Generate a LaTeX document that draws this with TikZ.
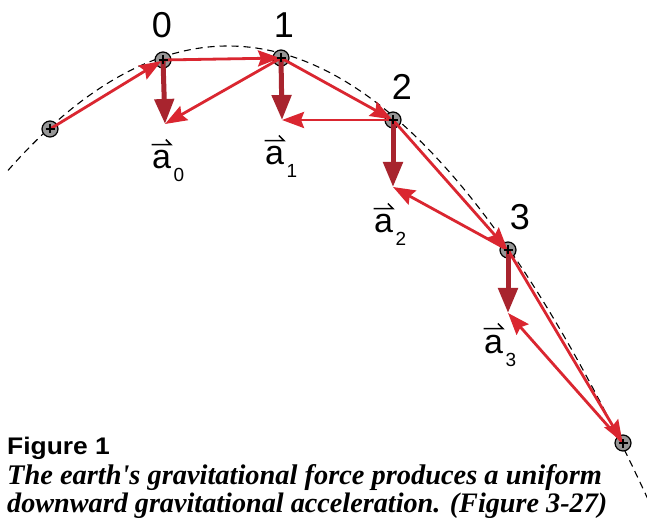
\documentclass[tikz,border=0pt]{standalone}
\usepackage{fontspec}
\setmainfont{Liberation Sans}
\newfontfamily\capserif{Liberation Serif}
\usetikzlibrary{arrows.meta}
\definecolor{vred}{RGB}{218,38,48}
\definecolor{ared}{RGB}{168,36,46}
\definecolor{dotgray}{RGB}{150,150,150}
\newcommand{\acclab}[4]{%
  \node[alab, anchor=base west] (#1) at (#2,#3) {a};
  \node[asub, anchor=base west] (#1s) at ([xshift=2pt,yshift=-13pt]#1.base east) {#4};
  \draw[abar] ([xshift=-0.5pt,yshift=6pt]#1.north west) -- ([xshift=-0.5pt,yshift=6pt]#1.north east) -- ++(-5pt,5pt);
}
\begin{document}
\begin{tikzpicture}[x=1pt,y=-1pt,
  dot/.style={circle, draw=black, line width=1.2pt, fill=dotgray, minimum size=16pt, inner sep=0pt},
  plusmark/.style={draw=black, line width=1.5pt},
  vel/.style={draw=vred, line width=2.8pt, -{Stealth[length=22pt,width=16pt,inset=3pt]}},
  acc/.style={draw=ared, line width=5pt, -{Triangle[length=25pt,width=19pt]}},
  traj/.style={draw=black, line width=1.1pt, dash pattern=on 7pt off 5pt},
  numlab/.style={inner sep=0pt, font=\fontsize{36}{42}\selectfont},
  alab/.style={inner sep=0pt, font=\fontsize{34}{39}\selectfont},
  asub/.style={inner sep=0pt, font=\fontsize{19}{23}\selectfont},
  abar/.style={draw=black, line width=1.5pt},
]
\useasboundingbox (0,0) rectangle (647,518);
\fill[white] (0,0) rectangle (647,518);

% trajectory
\draw[traj] plot[domain=8:648, samples=120] (\x, {46+25.7*((\x-228)/100)^2});

% points
\node[dot] (pm) at (50,129) {};
\node[dot] (p0) at (163,60) {};
\node[dot] (p1) at (281,58) {};
\node[dot] (p2) at (393,120) {};
\node[dot] (p3) at (508,250) {};
\node[dot] (p4) at (623,443) {};

% acceleration tips
\coordinate (t0) at (165,124);
\coordinate (t1) at (282,120);
\coordinate (t2) at (393,187);
\coordinate (t3) at (508,313);

% acceleration arrows
\draw[acc] (p0.center) -- (t0);
\draw[acc] (p1.center) -- (t1);
\draw[acc] (p2.center) -- (t2);
\draw[acc] (p3.center) -- (t3);

% velocity arrows
\draw[vel, shorten >=2pt] (pm.center) -- (p0.center);
\draw[vel, shorten >=1pt] (p0.center) -- (p1.center);
\draw[vel, shorten >=1pt] (p1.center) -- (p2.center);
\draw[vel, shorten >=1pt] (p2.center) -- (p3.center);
\draw[vel, shorten >=1pt] (p3.center) -- (p4.center);
\draw[vel] (p1.center) -- (t0);
\draw[vel] (p2.center) -- (t1);
\draw[vel] (p3.center) -- (t2);
\draw[vel] (p4.center) -- (t3);

% plus marks
\foreach \n in {pm,p0,p1,p2,p3,p4}
  \draw[plusmark] ([xshift=-4.5pt]\n.center) -- ([xshift=4.5pt]\n.center)
                  ([yshift=-4.5pt]\n.center) -- ([yshift=4.5pt]\n.center);

% numbers
\node[numlab, anchor=base] (n0) at (162,38) {0};
\node[numlab, anchor=base] (n1) at (284,38) {1};
\node[numlab, anchor=base] (n2) at (402,100) {2};
\node[numlab, anchor=base] (n3) at (520,230) {3};

% acceleration labels
\acclab{a0}{152}{169}{0}
\acclab{a1}{265}{165}{1}
\acclab{a2}{374}{233}{2}
\acclab{a3}{484}{353}{3}

% caption
\node[anchor=base west, inner sep=0pt] (fig) at (7,454)
  {\scalebox{1.1}[1]{\bfseries\fontsize{24}{28}\selectfont Figure 1}};
\node[anchor=base west, inner sep=0pt] (cap1) at (7,484)
  {\capserif\bfseries\itshape\fontsize{28.4}{32}\selectfont The earth\textquotesingle s gravitational force produces a uniform};
\node[anchor=base west, inner sep=0pt] (cap2) at (7,512)
  {\capserif\bfseries\itshape\fontsize{28.2}{32}\selectfont downward gravitational acceleration. (Figure 3-27)};
\end{tikzpicture}
\end{document}
